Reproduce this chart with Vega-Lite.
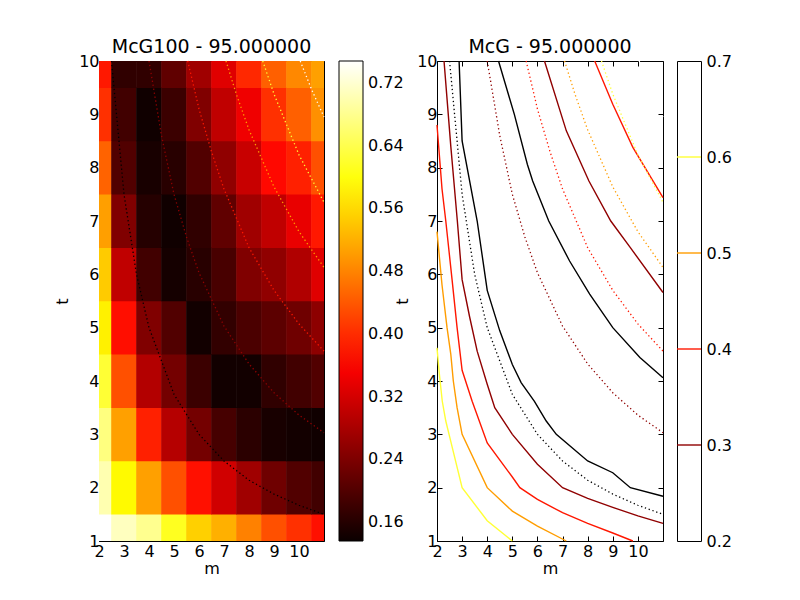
{
  "$schema": "https://vega.github.io/schema/vega-lite/v6.json",
  "background": "white",
  "padding": {"left": 54, "top": 37, "right": 5, "bottom": 5},
  "datasets": {
    "heat": [
      {"m":2,"t":1,"v":0.748},{"m":3,"t":1,"v":0.709},{"m":4,"t":1,"v":0.680},{"m":5,"t":1,"v":0.612},{"m":6,"t":1,"v":0.550},{"m":7,"t":1,"v":0.520},{"m":8,"t":1,"v":0.477},{"m":9,"t":1,"v":0.433},{"m":10,"t":1,"v":0.403},{"m":11,"t":1,"v":0.374},
      {"m":2,"t":2,"v":0.700},{"m":3,"t":2,"v":0.588},{"m":4,"t":2,"v":0.506},{"m":5,"t":2,"v":0.433},{"m":6,"t":2,"v":0.374},{"m":7,"t":2,"v":0.316},{"m":8,"t":2,"v":0.272},{"m":9,"t":2,"v":0.228},{"m":10,"t":2,"v":0.200},{"m":11,"t":2,"v":0.185},
      {"m":2,"t":3,"v":0.670},{"m":3,"t":3,"v":0.506},{"m":4,"t":3,"v":0.389},{"m":5,"t":3,"v":0.292},{"m":6,"t":3,"v":0.232},{"m":7,"t":3,"v":0.190},{"m":8,"t":3,"v":0.165},{"m":9,"t":3,"v":0.148},{"m":10,"t":3,"v":0.143},{"m":11,"t":3,"v":0.141},
      {"m":2,"t":4,"v":0.625},{"m":3,"t":4,"v":0.433},{"m":4,"t":4,"v":0.290},{"m":5,"t":4,"v":0.232},{"m":6,"t":4,"v":0.180},{"m":7,"t":4,"v":0.142},{"m":8,"t":4,"v":0.142},{"m":9,"t":4,"v":0.170},{"m":10,"t":4,"v":0.185},{"m":11,"t":4,"v":0.200},
      {"m":2,"t":5,"v":0.580},{"m":3,"t":5,"v":0.372},{"m":4,"t":5,"v":0.243},{"m":5,"t":5,"v":0.200},{"m":6,"t":5,"v":0.142},{"m":7,"t":5,"v":0.172},{"m":8,"t":5,"v":0.195},{"m":9,"t":5,"v":0.210},{"m":10,"t":5,"v":0.228},{"m":11,"t":5,"v":0.255},
      {"m":2,"t":6,"v":0.545},{"m":3,"t":6,"v":0.302},{"m":4,"t":6,"v":0.185},{"m":5,"t":6,"v":0.145},{"m":6,"t":6,"v":0.163},{"m":7,"t":6,"v":0.192},{"m":8,"t":6,"v":0.243},{"m":9,"t":6,"v":0.258},{"m":10,"t":6,"v":0.287},{"m":11,"t":6,"v":0.331},
      {"m":2,"t":7,"v":0.505},{"m":3,"t":7,"v":0.243},{"m":4,"t":7,"v":0.160},{"m":5,"t":7,"v":0.141},{"m":6,"t":7,"v":0.170},{"m":7,"t":7,"v":0.214},{"m":8,"t":7,"v":0.272},{"m":9,"t":7,"v":0.302},{"m":10,"t":7,"v":0.339},{"m":11,"t":7,"v":0.381},
      {"m":2,"t":8,"v":0.450},{"m":3,"t":8,"v":0.200},{"m":4,"t":8,"v":0.148},{"m":5,"t":8,"v":0.163},{"m":6,"t":8,"v":0.200},{"m":7,"t":8,"v":0.258},{"m":8,"t":8,"v":0.309},{"m":9,"t":8,"v":0.367},{"m":10,"t":8,"v":0.389},{"m":11,"t":8,"v":0.433},
      {"m":2,"t":9,"v":0.403},{"m":3,"t":9,"v":0.185},{"m":4,"t":9,"v":0.141},{"m":5,"t":9,"v":0.180},{"m":6,"t":9,"v":0.243},{"m":7,"t":9,"v":0.302},{"m":8,"t":9,"v":0.346},{"m":9,"t":9,"v":0.403},{"m":10,"t":9,"v":0.447},{"m":11,"t":9,"v":0.491},
      {"m":2,"t":10,"v":0.381},{"m":3,"t":10,"v":0.170},{"m":4,"t":10,"v":0.170},{"m":5,"t":10,"v":0.214},{"m":6,"t":10,"v":0.272},{"m":7,"t":10,"v":0.331},{"m":8,"t":10,"v":0.396},{"m":9,"t":10,"v":0.447},{"m":10,"t":10,"v":0.484},{"m":11,"t":10,"v":0.506}
    ],
    "dotted": [
      {"level":0.2,"m":2.5,"t":10},{"level":0.2,"m":3,"t":7.5},{"level":0.2,"m":3.5,"t":6.0},{"level":0.2,"m":4,"t":5.0},{"level":0.2,"m":5,"t":3.75},{"level":0.2,"m":6,"t":3.0},{"level":0.2,"m":7,"t":2.5},{"level":0.2,"m":8,"t":2.14},{"level":0.2,"m":9,"t":1.88},{"level":0.2,"m":10,"t":1.67},{"level":0.2,"m":11,"t":1.5},
      {"level":0.3,"m":4,"t":10},{"level":0.3,"m":4.5,"t":8.6},{"level":0.3,"m":5,"t":7.5},{"level":0.3,"m":5.5,"t":6.7},{"level":0.3,"m":6,"t":6.03},{"level":0.3,"m":7,"t":5.03},{"level":0.3,"m":8,"t":4.32},{"level":0.3,"m":9,"t":3.78},{"level":0.3,"m":10,"t":3.36},{"level":0.3,"m":11,"t":3.03},
      {"level":0.4,"m":5.55,"t":10},{"level":0.4,"m":6,"t":9.1},{"level":0.4,"m":6.5,"t":8.3},{"level":0.4,"m":7,"t":7.6},{"level":0.4,"m":8,"t":6.5},{"level":0.4,"m":9,"t":5.7},{"level":0.4,"m":10,"t":5.07},{"level":0.4,"m":11,"t":4.56},
      {"level":0.5,"m":7.08,"t":10},{"level":0.5,"m":7.5,"t":9.37},{"level":0.5,"m":8,"t":8.71},{"level":0.5,"m":9,"t":7.64},{"level":0.5,"m":10,"t":6.8},{"level":0.5,"m":11,"t":6.13},
      {"level":0.6,"m":8.55,"t":10},{"level":0.6,"m":9,"t":9.38},{"level":0.6,"m":10,"t":8.24},{"level":0.6,"m":11,"t":7.35},
      {"level":0.7,"m":10.05,"t":10},{"level":0.7,"m":10.5,"t":9.47},{"level":0.7,"m":11,"t":8.95}
    ],
    "solid": [
      {"curve":"y6","level":0.6,"m":2.0,"t":4.62},{"curve":"y6","level":0.6,"m":2.1,"t":4.1},{"curve":"y6","level":0.6,"m":2.21,"t":3.62},{"curve":"y6","level":0.6,"m":2.35,"t":3.25},{"curve":"y6","level":0.6,"m":2.48,"t":3.0},{"curve":"y6","level":0.6,"m":3.0,"t":2.0},{"curve":"y6","level":0.6,"m":4.0,"t":1.38},{"curve":"y6","level":0.6,"m":5.0,"t":1.0},
      {"curve":"o5","level":0.5,"m":2.0,"t":6.8},{"curve":"o5","level":0.5,"m":2.1,"t":6.3},{"curve":"o5","level":0.5,"m":2.2,"t":5.8},{"curve":"o5","level":0.5,"m":2.4,"t":5.0},{"curve":"o5","level":0.5,"m":2.55,"t":4.5},{"curve":"o5","level":0.5,"m":2.65,"t":4.0},{"curve":"o5","level":0.5,"m":2.8,"t":3.5},{"curve":"o5","level":0.5,"m":3.0,"t":3.0},{"curve":"o5","level":0.5,"m":4.0,"t":2.0},{"curve":"o5","level":0.5,"m":5.0,"t":1.56},{"curve":"o5","level":0.5,"m":6.0,"t":1.28},{"curve":"o5","level":0.5,"m":7.15,"t":1.0},
      {"curve":"r4a","level":0.4,"m":2.0,"t":8.8},{"curve":"r4a","level":0.4,"m":2.2,"t":7.6},{"curve":"r4a","level":0.4,"m":2.35,"t":7.0},{"curve":"r4a","level":0.4,"m":2.6,"t":5.9},{"curve":"r4a","level":0.4,"m":2.8,"t":5.0},{"curve":"r4a","level":0.4,"m":3.0,"t":4.2},{"curve":"r4a","level":0.4,"m":3.4,"t":3.62},{"curve":"r4a","level":0.4,"m":4.0,"t":2.84},{"curve":"r4a","level":0.4,"m":5.0,"t":2.2},{"curve":"r4a","level":0.4,"m":5.3,"t":2.0},{"curve":"r4a","level":0.4,"m":6.0,"t":1.78},{"curve":"r4a","level":0.4,"m":7.0,"t":1.53},{"curve":"r4a","level":0.4,"m":8.0,"t":1.33},{"curve":"r4a","level":0.4,"m":9.0,"t":1.15},{"curve":"r4a","level":0.4,"m":9.8,"t":1.0},
      {"curve":"d3a","level":0.3,"m":2.28,"t":10},{"curve":"d3a","level":0.3,"m":2.55,"t":8.4},{"curve":"d3a","level":0.3,"m":2.81,"t":7.0},{"curve":"d3a","level":0.3,"m":3.0,"t":5.9},{"curve":"d3a","level":0.3,"m":3.3,"t":5.2},{"curve":"d3a","level":0.3,"m":3.6,"t":4.56},{"curve":"d3a","level":0.3,"m":4.0,"t":3.94},{"curve":"d3a","level":0.3,"m":4.3,"t":3.5},{"curve":"d3a","level":0.3,"m":5.0,"t":3.0},{"curve":"d3a","level":0.3,"m":6.0,"t":2.44},{"curve":"d3a","level":0.3,"m":7.0,"t":2.0},{"curve":"d3a","level":0.3,"m":8.0,"t":1.8},{"curve":"d3a","level":0.3,"m":9.0,"t":1.63},{"curve":"d3a","level":0.3,"m":10.0,"t":1.47},{"curve":"d3a","level":0.3,"m":11.0,"t":1.33},
      {"curve":"k2a","level":0.2,"m":2.88,"t":10},{"curve":"k2a","level":0.2,"m":3.0,"t":8.5},{"curve":"k2a","level":0.2,"m":3.6,"t":7.0},{"curve":"k2a","level":0.2,"m":4.0,"t":5.7},{"curve":"k2a","level":0.2,"m":4.5,"t":4.94},{"curve":"k2a","level":0.2,"m":5.0,"t":4.31},{"curve":"k2a","level":0.2,"m":5.35,"t":3.97},{"curve":"k2a","level":0.2,"m":5.88,"t":3.62},{"curve":"k2a","level":0.2,"m":6.35,"t":3.25},{"curve":"k2a","level":0.2,"m":6.75,"t":3.0},{"curve":"k2a","level":0.2,"m":8.0,"t":2.5},{"curve":"k2a","level":0.2,"m":9.0,"t":2.28},{"curve":"k2a","level":0.2,"m":9.7,"t":2.0},{"curve":"k2a","level":0.2,"m":11.0,"t":1.84},
      {"curve":"k2b","level":0.2,"m":4.45,"t":10},{"curve":"k2b","level":0.2,"m":5.08,"t":9.0},{"curve":"k2b","level":0.2,"m":5.6,"t":8.06},{"curve":"k2b","level":0.2,"m":5.81,"t":7.75},{"curve":"k2b","level":0.2,"m":6.45,"t":7.0},{"curve":"k2b","level":0.2,"m":7.28,"t":6.25},{"curve":"k2b","level":0.2,"m":8.08,"t":5.63},{"curve":"k2b","level":0.2,"m":9.0,"t":5.0},{"curve":"k2b","level":0.2,"m":10.08,"t":4.44},{"curve":"k2b","level":0.2,"m":11.0,"t":4.06},
      {"curve":"d3b","level":0.3,"m":6.28,"t":10},{"curve":"d3b","level":0.3,"m":7.15,"t":8.69},{"curve":"d3b","level":0.3,"m":8.05,"t":7.75},{"curve":"d3b","level":0.3,"m":8.92,"t":7.0},{"curve":"d3b","level":0.3,"m":9.7,"t":6.5},{"curve":"d3b","level":0.3,"m":11.0,"t":5.66},
      {"curve":"r4b","level":0.4,"m":8.28,"t":10},{"curve":"r4b","level":0.4,"m":9.0,"t":9.19},{"curve":"r4b","level":0.4,"m":9.8,"t":8.38},{"curve":"r4b","level":0.4,"m":11.0,"t":7.44}
    ],
    "levels": [{"level":0.3},{"level":0.4},{"level":0.5},{"level":0.6}]
  },
  "hconcat": [
    {
      "width": 225,
      "height": 480,
      "title": {"text": "McG100 - 95.000000"},
      "layer": [
        {
          "data": {"name": "heat"},
          "mark": {"type": "rect", "clip": true, "width": 25.6, "height": 53.9},
          "encoding": {
            "x": {"field": "m", "type": "quantitative", "scale": {"domain": [2, 11], "nice": false, "zero": false},
                  "axis": {"orient": "bottom", "values": [2,3,4,5,6,7,8,9,10], "title": "m", "labelPadding": 7, "titlePadding": 1}},
            "y": {"field": "t", "type": "quantitative", "scale": {"domain": [1, 10], "nice": false, "zero": false},
                  "axis": {"orient": "left", "values": [1,2,3,4,5,6,7,8,9,10], "title": "t", "labelPadding": 5, "titlePadding": 8}},
            "color": {"field": "v", "type": "quantitative",
                      "scale": {"type": "linear", "domain": [0.136, 0.3594, 0.5926, 0.748], "range": ["#0b0000", "#ff0000", "#ffff00", "#ffffff"], "interpolate": "rgb"},
                      "legend": {"orient": "right", "offset": 12, "gradientLength": 480, "gradientThickness": 24,
                                 "values": [0.16,0.24,0.32,0.40,0.48,0.56,0.64,0.72], "format": ".2f",
                                 "labelFontSize": 16, "labelOffset": 5, "title": null, "gradientStrokeColor": "black",
                                 "gradientStrokeWidth": 1, "padding": 0, "labelOverlap": false, "labelColor": "black"}}
          }
        },
        {
          "data": {"name": "dotted"},
          "mark": {"type": "line", "strokeDash": [1.3, 2.7], "strokeWidth": 1.3},
          "encoding": {
            "x": {"field": "m", "type": "quantitative", "scale": {"domain": [2, 11], "nice": false, "zero": false},
                  "axis": {"orient": "top", "values": [2,3,4,5,6,7,8,9,10], "labels": false, "title": null}},
            "y": {"field": "t", "type": "quantitative", "scale": {"domain": [1, 10], "nice": false, "zero": false},
                  "axis": {"orient": "right", "values": [1,2,3,4,5,6,7,8,9,10], "labels": false, "title": null}},
            "stroke": {"field": "level", "type": "nominal",
                       "scale": {"domain": [0.2,0.3,0.4,0.5,0.6,0.7], "range": ["#000000","#900000","#ff1700","#ff9d00","#ffff36","#ffffff"]},
                       "legend": null}
          }
        }
      ],
      "resolve": {"axis": {"x": "independent", "y": "independent"}}
    },
    {
      "spacing": 8,
      "hconcat": [
        {
          "width": 226,
          "height": 480,
          "title": {"text": "McG - 95.000000"},
          "layer": [
            {
              "data": {"name": "solid"},
              "mark": {"type": "line", "strokeWidth": 1.4},
              "encoding": {
                "x": {"field": "m", "type": "quantitative", "scale": {"domain": [2, 11], "nice": false, "zero": false},
                      "axis": {"orient": "bottom", "values": [2,3,4,5,6,7,8,9,10], "title": "m", "labelPadding": 7, "titlePadding": 1}},
                "y": {"field": "t", "type": "quantitative", "scale": {"domain": [1, 10], "nice": false, "zero": false},
                      "axis": {"orient": "left", "values": [1,2,3,4,5,6,7,8,9,10], "title": "t", "labelPadding": 5, "titlePadding": 6}},
                "stroke": {"field": "level", "type": "nominal",
                           "scale": {"domain": [0.2,0.3,0.4,0.5,0.6,0.7], "range": ["#000000","#900000","#ff1700","#ff9d00","#ffff36","#ffffff"]},
                           "legend": null},
                "detail": {"field": "curve"}
              }
            },
            {
              "data": {"name": "dotted"},
              "mark": {"type": "line", "strokeDash": [1.3, 2.7], "strokeWidth": 1.3},
              "encoding": {
                "x": {"field": "m", "type": "quantitative", "scale": {"domain": [2, 11], "nice": false, "zero": false},
                      "axis": {"orient": "top", "values": [2,3,4,5,6,7,8,9,10], "labels": false, "title": null}},
                "y": {"field": "t", "type": "quantitative", "scale": {"domain": [1, 10], "nice": false, "zero": false},
                      "axis": {"orient": "right", "values": [1,2,3,4,5,6,7,8,9,10], "labels": false, "title": null}},
                "stroke": {"field": "level", "type": "nominal",
                           "scale": {"domain": [0.2,0.3,0.4,0.5,0.6,0.7], "range": ["#000000","#900000","#ff1700","#ff9d00","#ffff36","#ffffff"]},
                           "legend": null}
              }
            }
          ],
          "resolve": {"axis": {"x": "independent", "y": "independent"}}
        },
        {
          "width": 24,
          "height": 480,
          "data": {"name": "levels"},
          "mark": {"type": "rule", "strokeWidth": 1.4},
          "encoding": {
            "y": {"field": "level", "type": "quantitative", "scale": {"domain": [0.2, 0.7], "nice": false, "zero": false},
                  "axis": {"orient": "right", "values": [0.2,0.3,0.4,0.5,0.6,0.7], "format": ".1f", "ticks": false, "labelPadding": 5, "title": null}},
            "stroke": {"field": "level", "type": "nominal",
                       "scale": {"domain": [0.2,0.3,0.4,0.5,0.6,0.7], "range": ["#000000","#900000","#ff1700","#ff9d00","#ffff36","#ffffff"]},
                       "legend": null}
          }
        }
      ]
    }
  ],
  "spacing": -11,
  "resolve": {"scale": {"color": "independent"}, "legend": {"color": "independent"}},
  "config": {
    "font": "DejaVu Sans",
    "view": {"stroke": "black", "strokeWidth": 1},
    "axis": {"domain": false, "grid": false, "tickColor": "black", "tickSize": -5, "tickWidth": 1,
             "labelFontSize": 16, "labelColor": "black", "titleFontSize": 16, "titleFontWeight": "normal",
             "titleColor": "black", "labelFlush": false, "labelOverlap": false, "labelFont": "DejaVu Sans", "titleFont": "DejaVu Sans"},
    "title": {"fontSize": 19, "fontWeight": "normal", "color": "black", "anchor": "middle", "offset": -4, "font": "DejaVu Sans"},
    "legend": {"labelFont": "DejaVu Sans"}
  }
}
